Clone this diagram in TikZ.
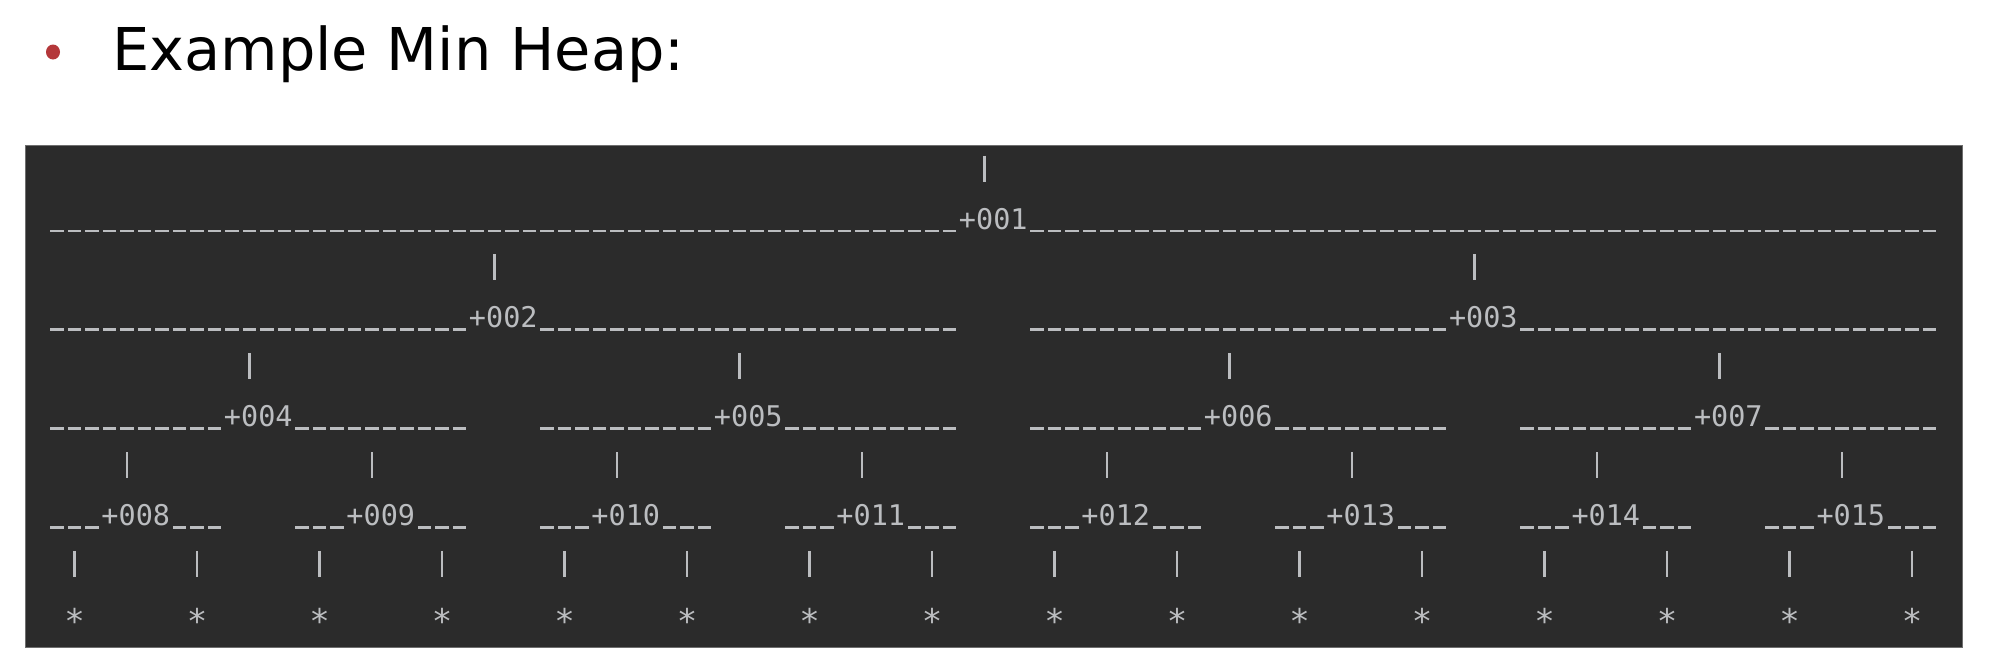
\documentclass[tikz,border=0pt]{standalone}
\usepackage{fontspec}
\usetikzlibrary{shapes.geometric}
\newfontfamily\monofont{DejaVu Sans Mono}
\newfontfamily\titlefont{DejaVu Sans}
\definecolor{bg}{RGB}{43,43,43}
\definecolor{fg}{RGB}{187,189,192}
\definecolor{bul}{RGB}{180,55,58}
\definecolor{boxframe}{RGB}{110,110,110}
\begin{document}
\begin{tikzpicture}[x=1pt,y=-1pt,
  lbl/.style={font=\monofont\fontsize{28.5}{28.5}\selectfont, text=fg, inner sep=0pt, anchor=base},
  leafstar/.style={font=\monofont\fontsize{34}{34}\selectfont, text=fg, inner sep=0pt, anchor=north},
  bar/.style={draw=fg, line width=2.6pt},
  uline/.style={draw=fg, line width=2.7pt, dash pattern=on 13.5pt off 4pt},
]
\useasboundingbox (0,0) rectangle (1989,653);
\fill[white] (0,0) rectangle (1989,653);
% title
\node[ellipse, fill=bul, minimum width=14pt, minimum height=15pt, inner sep=0pt] (bullet) at (53,52) {};
\node[anchor=base west, inner sep=0pt, font=\titlefont\fontsize{59}{59}\selectfont] (title) at (112,70) {Example Min Heap:};
% console box
\node[draw=boxframe, line width=1pt, fill=bg, inner sep=0pt, minimum width=1937pt, minimum height=502pt, anchor=north west] (console) at (25,145) {};
% tree levels
\foreach \d/\P in {0/112,1/56,2/28,3/14} {
  \pgfmathtruncatemacro\cnt{2^\d}
  \pgfmathtruncatemacro\nm{\cnt-1}
  \pgfmathtruncatemacro\spn{\P-4}
  \pgfmathtruncatemacro\lof{(\spn-4)/2}
  \pgfmathsetmacro\lb{229+2*\d*49.4}
  \pgfmathsetmacro\pbase{\lb-49.4}
  \foreach \k in {0,...,\nm} {
    \pgfmathtruncatemacro\nst{\k*\P}
    \pgfmathtruncatemacro\ls{\nst+\lof}
    \pgfmathtruncatemacro\val{\cnt+\k}
    \pgfmathsetmacro\xa{48.3+17.5*\nst+2}
    \pgfmathsetmacro\xb{48.3+17.5*\ls-2}
    \pgfmathsetmacro\xc{48.3+17.5*(\ls+4)+2}
    \pgfmathsetmacro\xd{48.3+17.5*(\nst+\spn)-2}
    \pgfmathsetmacro\xl{48.3+17.5*(\ls+2)}
    \pgfmathsetmacro\xp{48.3+17.5*(\ls+1.5)}
    \node[lbl] (n\val) at (\xl,\lb) {\ifnum\val<10 +00\val\else +0\val\fi};
    \coordinate (ua\val) at (\xa,\lb+2);
    \coordinate (ub\val) at (\xb,\lb+2);
    \coordinate (uc\val) at (\xc,\lb+2);
    \coordinate (ud\val) at (\xd,\lb+2);
    \draw[uline] (ua\val) -- (ub\val);
    \draw[uline] (uc\val) -- (ud\val);
    \coordinate (pt\val) at (\xp,\pbase-24);
    \coordinate (pb\val) at (\xp,\pbase+2);
    \draw[bar] (pt\val) -- (pb\val);
  }
}
% empty leaves
\foreach \k in {0,...,15} {
  \pgfmathsetmacro\xp{48.3+17.5*(7*\k+1.5)}
  \coordinate (lt\k) at (\xp,550.8);
  \coordinate (lb\k) at (\xp,576.8);
  \draw[bar] (lt\k) -- (lb\k);
  \node[leafstar] (s\k) at (\xp,607.7) {*};
}
\end{tikzpicture}
\end{document}
